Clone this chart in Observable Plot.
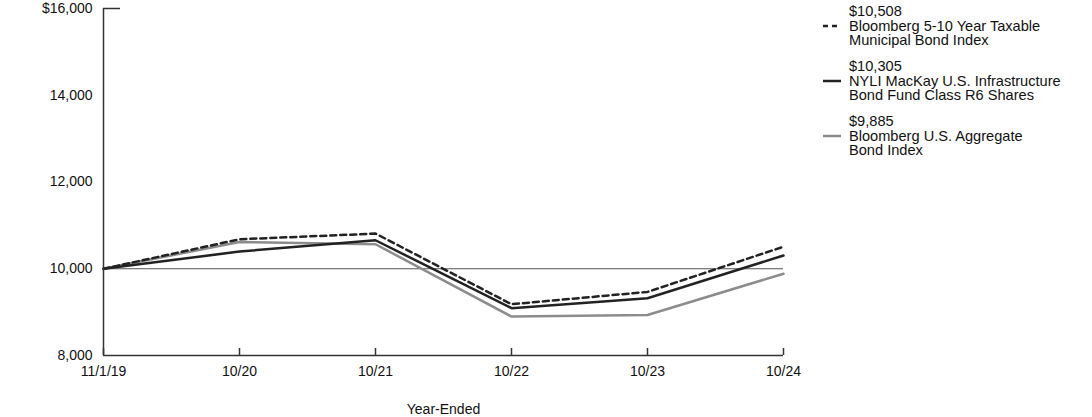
<!DOCTYPE html>
<html>
<head>
<meta charset="utf-8">
<script src="https://cdn.jsdelivr.net/npm/d3@7"></script>
<script src="https://cdn.jsdelivr.net/npm/@observablehq/plot@0.6"></script>
<style>
  html, body { margin: 0; padding: 0; background: #fff; }
  #wrap { position: relative; width: 1092px; height: 417px; font-family: "Liberation Sans", Arial, sans-serif; }
  #legend { position: absolute; left: 822px; top: 4px; font-size: 14.6px; line-height: 14.5px; color: #111; }
  .item { position: relative; padding-left: 27px; margin-bottom: 11.5px; }
  .item svg { position: absolute; left: 0; top: 19px; }
</style>
</head>
<body>
<div id="wrap"><div id="legend"></div></div>
<script>
const periods = ["11/1/19", "10/20", "10/21", "10/22", "10/23", "10/24"];
const muniIndex = [10000, 10680, 10811, 9182, 9466, 10508];
const fundR6 = [10000, 10396, 10657, 9090, 9320, 10305];
const aggIndex = [10000, 10618, 10565, 8898, 8935, 9885];
const seriesNames = [
  "Bloomberg 5-10 Year Taxable Municipal Bond Index",
  "NYLI MacKay U.S. Infrastructure Bond Fund Class R6 Shares",
  "Bloomberg U.S. Aggregate Bond Index"
];
const legendLines = [
  ["$10,508", "Bloomberg 5-10 Year Taxable", "Municipal Bond Index"],
  ["$10,305", "NYLI MacKay U.S. Infrastructure", "Bond Fund Class R6 Shares"],
  ["$9,885", "Bloomberg U.S. Aggregate", "Bond Index"]
];
const yTicks = [8000, 10000, 12000, 14000, 16000];

const styles = [
  {stroke: "#222", dash: "6,4"},
  {stroke: "#222", dash: null},
  {stroke: "#8c8c8c", dash: null}
];

const allSeries = [muniIndex, fundR6, aggIndex];
const rows = (vals, name) => periods.map((p, i) => ({period: p, value: vals[i], series: name}));

const fmtY = d => (d === 16000 ? "$" : "") + d3.format(",")(d);

const order = [2, 1, 0];
const lineMarks = order.map(k => Plot.line(rows(allSeries[k], seriesNames[k]), {
  x: "period", y: "value",
  stroke: styles[k].stroke, strokeWidth: 2.5,
  strokeDasharray: styles[k].dash, strokeLinejoin: "miter"
}));

const chart = Plot.plot({
  width: 1092,
  height: 417,
  marginLeft: 103,
  marginRight: 309,
  marginTop: 8,
  marginBottom: 62,
  style: {fontFamily: "'Liberation Sans', Arial, sans-serif", fontSize: "14px", color: "#111", background: "transparent"},
  x: {type: "point", domain: periods, padding: 0, label: null},
  y: {domain: [8000, 16000], label: null},
  marks: [
    Plot.ruleY([10000], {stroke: "#555", strokeWidth: 1}),
    ...lineMarks,
    Plot.ruleX([periods[0]], {y1: 8000, y2: 16000, stroke: "#333", strokeWidth: 1.5}),
    Plot.ruleY([8000], {stroke: "#333", strokeWidth: 1.5}),
    Plot.axisY({ticks: yTicks, tickSize: 0, tickPadding: 11, tickFormat: fmtY, fontSize: 14}),
    Plot.axisY({ticks: [16000], tickSize: -17, tickFormat: () => "", stroke: "#333", strokeWidth: 1.5}),
    Plot.axisX({tickSize: -7, tickPadding: 18, stroke: "#333", strokeWidth: 1.5, fontSize: 14,
      label: "Year-Ended", labelAnchor: "center", labelArrow: "none", labelOffset: 58})
  ]
});
document.getElementById("wrap").prepend(chart);

const leg = document.getElementById("legend");
legendLines.forEach((lines, k) => {
  const div = document.createElement("div");
  div.className = "item";
  div.innerHTML = `<svg width="20" height="6"><line x1="1" y1="3" x2="19" y2="3" stroke="${styles[k].stroke}" stroke-width="2.5" ${styles[k].dash ? `stroke-dasharray="5,4"` : ""}/></svg>` +
    lines.map(t => `<div>${t}</div>`).join("");
  leg.appendChild(div);
});
</script>
</body>
</html>
